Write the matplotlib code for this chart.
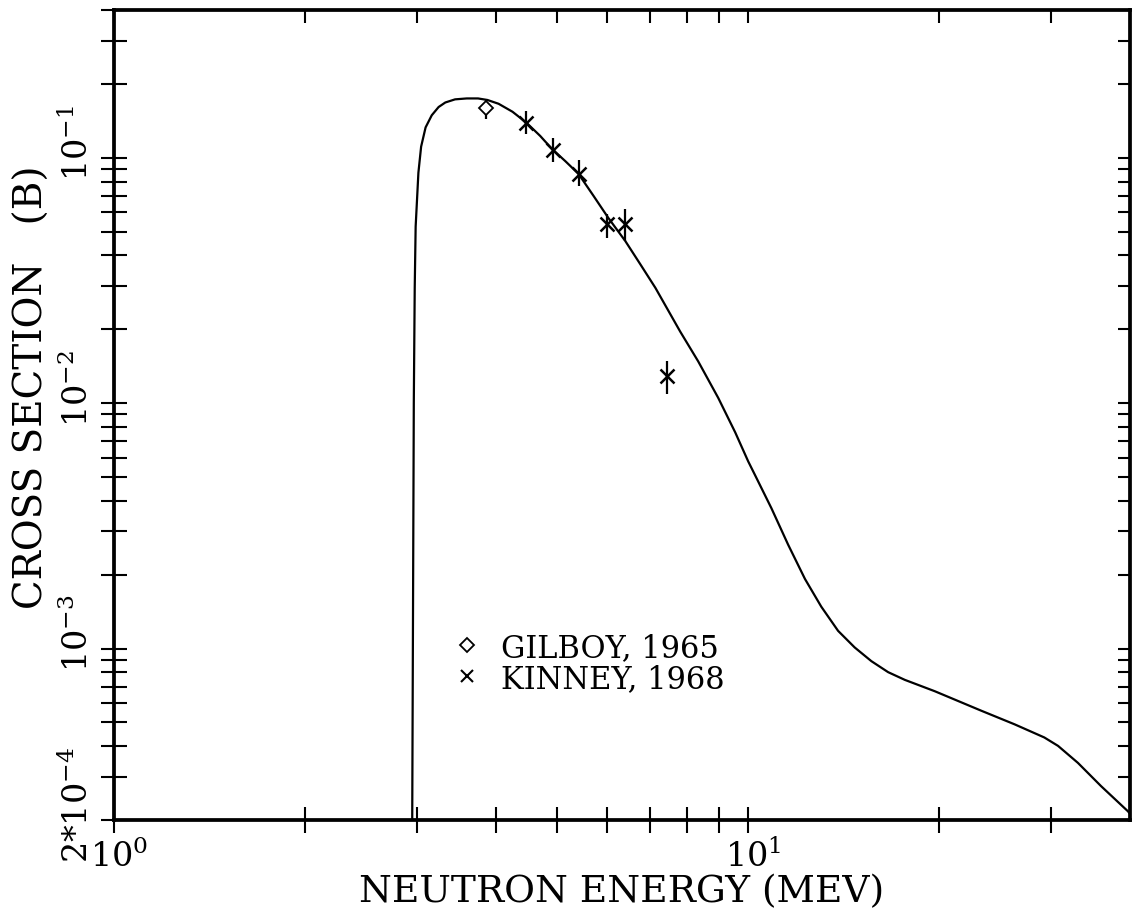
import numpy as np
import matplotlib
matplotlib.use("Agg")
import matplotlib.pyplot as plt
import matplotlib.transforms as mtransforms
from matplotlib.ticker import FixedLocator, FixedFormatter, NullFormatter
from matplotlib.lines import Line2D

plt.rcParams["font.family"] = ["DejaVu Serif"]
plt.rcParams["mathtext.fontset"] = "dejavuserif"

# evaluated curve
curve_e = [2.95, 2.96, 2.97, 2.98, 2.99, 3.02, 3.05, 3.10, 3.17, 3.25, 3.33, 3.45,
           3.60, 3.75, 3.88, 4.04, 4.25, 4.47, 4.70, 4.90, 5.15, 5.40, 5.70, 6.02,
           6.40, 6.76, 7.14, 7.81, 8.34, 8.97, 9.54, 10.0, 10.24, 10.88, 11.56, 12.29,
           13.04, 13.86, 14.72, 15.64, 16.62, 17.66, 19.68, 23.3, 26.3, 29.3, 30.8,
           33.1, 36.0, 39.7, 40.0]
curve_xs = [1.0e-4, 1.0e-3, 1.0e-2, 0.0295, 0.0524, 0.0869, 0.111, 0.133, 0.149, 0.161,
            0.168, 0.173, 0.1745, 0.1745, 0.172, 0.166, 0.154, 0.139, 0.1227, 0.1089,
            0.0968, 0.0860, 0.0701, 0.0568, 0.0458, 0.0368, 0.0295, 0.0196, 0.0148,
            0.0105, 0.0076, 0.00579, 0.00512, 0.00373, 0.00265, 0.00192, 0.00148,
            0.00118, 0.00101, 0.000888, 0.000801, 0.000745, 0.00067, 0.000558,
            0.000491, 0.000434, 0.000401, 0.000342, 0.000275, 0.000217, 0.000212]

# experimental data
gilboy_e = [3.86]
gilboy_xs = [0.159]
gilboy_lo = [0.1435]
gilboy_hi = [0.172]

kinney_e = [4.47, 4.92, 5.42, 6.0, 6.4, 7.45]
kinney_xs = [0.139, 0.1079, 0.0859, 0.0538, 0.0537, 0.01293]
kinney_lo = [0.1247, 0.0962, 0.0766, 0.0471, 0.0458, 0.0109]
kinney_hi = [0.1558, 0.1205, 0.098, 0.0590, 0.0618, 0.01486]

y_major = [2e-4, 1e-3, 1e-2, 1e-1]
y_major_labels = [r"$2{*}10^{-4}$", r"$10^{-3}$", r"$10^{-2}$", r"$10^{-1}$"]
y_minor = [m * d for d in (1e-4, 1e-3, 1e-2, 1e-1) for m in range(2, 10)]
x_major = [1, 10]
x_major_labels = [r"$10^{0}$", r"$10^{1}$"]
x_minor = [2, 3, 4, 5, 6, 7, 8, 9, 20, 30]

fig = plt.figure(figsize=(11.34, 9.2), dpi=100)
ax = fig.add_axes([0.1005, 0.1076, 0.896, 0.8804])
ax.set_xscale("log")
ax.set_yscale("log")
ax.set_xlim(1, 40)
ax.set_ylim(2e-4, 0.4)

ax.plot(curve_e, curve_xs, color="black", lw=1.6, solid_joinstyle="round")

g_err = [np.array(gilboy_xs) - np.array(gilboy_lo), np.array(gilboy_hi) - np.array(gilboy_xs)]
ax.errorbar(gilboy_e, gilboy_xs, yerr=g_err, fmt="D", mfc="white", mec="black",
            ms=7, mew=1.3, ecolor="black", elinewidth=1.6, capsize=0)
k_err = [np.array(kinney_xs) - np.array(kinney_lo), np.array(kinney_hi) - np.array(kinney_xs)]
ax.errorbar(kinney_e, kinney_xs, yerr=k_err, fmt="x", color="black",
            ms=10, mew=1.8, ecolor="black", elinewidth=1.6, capsize=0)

# axis ticks
ax.xaxis.set_major_locator(FixedLocator(x_major))
ax.xaxis.set_major_formatter(FixedFormatter(x_major_labels))
ax.xaxis.set_minor_locator(FixedLocator(x_minor))
ax.xaxis.set_minor_formatter(NullFormatter())
ax.yaxis.set_major_locator(FixedLocator(y_major))
ax.yaxis.set_major_formatter(FixedFormatter(y_major_labels))
ax.yaxis.set_minor_locator(FixedLocator(y_minor))
ax.yaxis.set_minor_formatter(NullFormatter())

ax.tick_params(which="both", direction="inout", length=19, width=1.5,
               top=False, right=False, labelsize=24, pad=4)
ax.tick_params(axis="y", labelrotation=90)

for sp in ax.spines.values():
    sp.set_linewidth(2.7)

# inward ticks on top and right
ax2 = fig.add_axes(ax.get_position(), sharex=ax, sharey=ax, frameon=False)
ax2.tick_params(which="both", direction="in", length=9, width=1.5,
                bottom=False, left=False, top=True, right=True,
                labelbottom=False, labelleft=False)
ax2.patch.set_visible(False)

# the "10" of each label sits on its tick, exponent hangs beyond
y_shift = mtransforms.ScaledTranslation(0, 0.16, fig.dpi_scale_trans)
for lab in ax.get_yticklabels():
    lab.set_va("center")
    lab.set_transform(lab.get_transform() + y_shift)
x_shift = mtransforms.ScaledTranslation(0.05, 0, fig.dpi_scale_trans)
for lab in ax.get_xticklabels():
    lab.set_transform(lab.get_transform() + x_shift)

ax.set_xlabel("NEUTRON ENERGY (MEV)", fontsize=27)
ax.xaxis.set_label_coords(0.5, -0.066)
ax.set_ylabel("CROSS SECTION   (B)", fontsize=28)
ax.yaxis.set_label_coords(-0.062, 0.536)

handles = [Line2D([], [], ls="none", marker="D", mfc="white", mec="black", ms=7, mew=1.3),
           Line2D([], [], ls="none", marker="x", color="black", ms=8, mew=1.5)]
ax.legend(handles, ["GILBOY, 1965", "KINNEY, 1968"], loc="upper left",
          bbox_to_anchor=(0.3327, 0.232), frameon=False, fontsize=22,
          handlelength=1.0, handletextpad=0.6, labelspacing=0.0, borderpad=0,
          borderaxespad=0)

fig.savefig("out.png", dpi=100)
